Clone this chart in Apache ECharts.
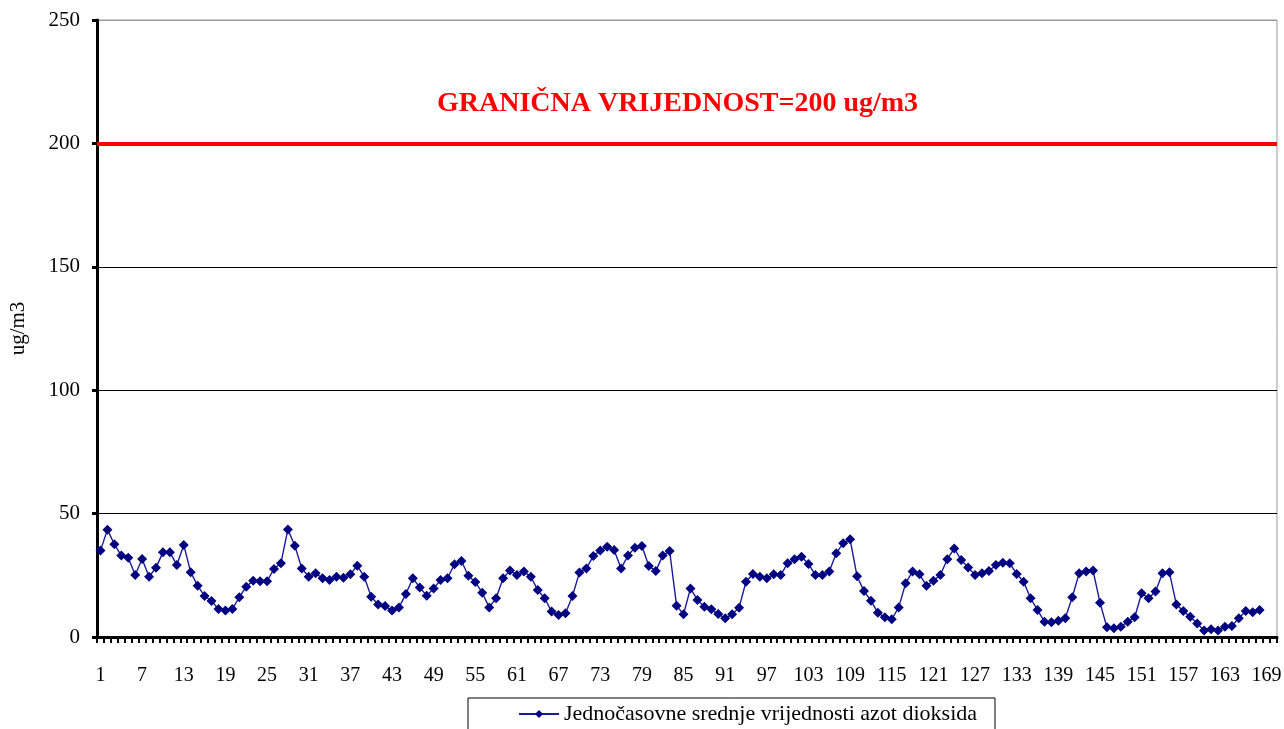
<!DOCTYPE html>
<html>
<head>
<meta charset="utf-8">
<script src="https://cdn.jsdelivr.net/npm/echarts@6/dist/echarts.min.js"></script>
<style>
  html, body { margin: 0; padding: 0; background: #fff; }
  #chart { width: 1284px; height: 729px; }
</style>
</head>
<body>
<div id="chart"></div>
<script>
// sati 1..170 (kategorije na x osi)
var hours = [];
for (var h = 1; h <= 170; h++) hours.push(String(h));

// jednočasovne srednje vrijednosti NO2 (ug/m3), očitano sa grafika
var no2Values = [
  35, 43.5, 37.6, 33, 32.1, 25.1, 31.6, 24.4, 28.1, 34.3,
  34.3, 29.2, 37.3, 26.2, 20.8, 16.6, 14.6, 11.3, 10.7, 11.3,
  16.1, 20.4, 22.8, 22.6, 22.6, 27.6, 29.9, 43.6, 37, 27.8,
  24.4, 25.8, 23.8, 23.1, 24.4, 24, 25.4, 28.9, 24.4, 16.3,
  13.2, 12.6, 10.7, 12, 17.4, 23.8, 20.1, 16.7, 19.7, 23.1,
  23.8, 29.5, 30.8, 24.8, 22.3, 17.9, 12, 15.7, 23.8, 26.9,
  25.1, 26.5, 24.4, 19, 15.7, 10.3, 8.9, 9.6, 16.6, 26.1,
  27.8, 32.8, 35, 36.6, 35.3, 27.8, 33, 36.2, 36.9, 28.8,
  26.7, 33, 34.8, 12.7, 9.2, 19.7, 15, 12.3, 11.2, 9.3,
  7.6, 9.2, 11.9, 22.4, 25.5, 24.4, 23.8, 25.4, 25.1, 29.9,
  31.5, 32.5, 29.6, 25.1, 25.1, 26.5, 33.9, 38, 39.6, 24.6,
  18.6, 14.7, 9.8, 8, 7.2, 12, 21.8, 26.5, 25.4, 20.8,
  22.8, 25.1, 31.5, 35.9, 31.2, 28.2, 25.1, 25.8, 26.7, 29.2,
  30.1, 29.9, 25.5, 22.4, 15.7, 10.9, 6.2, 6, 6.6, 7.6,
  16.1, 25.8, 26.5, 26.9, 13.9, 3.9, 3.5, 4.2, 6.2, 8,
  17.7, 15.7, 18.4, 25.8, 26.2, 13.2, 10.5, 8.2, 5.5, 2.6,
  3.1, 2.6, 4.2, 4.5, 7.6, 10.5, 10, 10.9
];

var limitValue = 200;
var yTicks = [0, 50, 100, 150, 200, 250];

var chart = echarts.init(document.getElementById('chart'));
var serif = '"Liberation Serif", "DejaVu Serif", serif';

chart.setOption({
  animation: false,
  backgroundColor: '#fff',
  title: {
    text: 'GRANIČNA VRIJEDNOST=200 ug/m3',
    left: 432,
    top: 85,
    textStyle: {
      color: '#ff0000',
      fontFamily: serif,
      fontWeight: 'bold',
      fontSize: 28
    }
  },
  grid: {
    left: 97,
    right: 7,
    top: 20,
    bottom: 92,
    outerBoundsMode: 'none',
    containLabel: false,
    show: true,
    borderColor: '#999',
    borderWidth: 1
  },
  legend: {
    data: ['Jednočasovne srednje vrijednosti azot dioksida'],
    left: 468,
    top: 698,
    padding: [5, 18, 20, 50],
    borderColor: '#000',
    borderWidth: 1,
    itemWidth: 40,
    itemHeight: 10,
    textStyle: {
      color: '#000',
      fontFamily: serif,
      fontSize: 22
    }
  },
  xAxis: {
    type: 'category',
    data: hours,
    boundaryGap: true,
    axisLine: { lineStyle: { color: '#000', width: 3 } },
    axisTick: {
      show: true,
      interval: 0,
      length: 6,
      lineStyle: { color: '#000', width: 2 }
    },
    axisLabel: {
      interval: 5,
      color: '#000',
      fontFamily: serif,
      fontSize: 20,
      margin: 29
    },
    splitLine: { show: false }
  },
  yAxis: {
    type: 'value',
    min: yTicks[0],
    max: yTicks[yTicks.length - 1],
    interval: 50,
    name: 'ug/m3',
    nameLocation: 'middle',
    nameGap: 68,
    nameRotate: 90,
    nameTextStyle: {
      color: '#000',
      fontFamily: serif,
      fontSize: 21
    },
    axisLine: { show: true, lineStyle: { color: '#000', width: 3 } },
    axisTick: { show: true, length: 5, lineStyle: { color: '#000', width: 3 } },
    axisLabel: {
      color: '#000',
      fontFamily: serif,
      fontSize: 21,
      margin: 17
    },
    splitLine: {
      show: true,
      lineStyle: { color: ['#000', '#000', '#000', '#000', '#000', '#999'], width: 1 }
    }
  },
  series: [
    {
      name: 'Jednočasovne srednje vrijednosti azot dioksida',
      type: 'line',
      data: no2Values,
      symbol: 'diamond',
      symbolSize: 10,
      showAllSymbol: true,
      itemStyle: { color: '#000080' },
      lineStyle: { color: '#1a1a99', width: 1.4 },
      markLine: {
        silent: true,
        symbol: ['none', 'none'],
        label: { show: false },
        lineStyle: { color: '#ff0000', width: 4, type: 'solid' },
        data: [{ yAxis: limitValue }]
      }
    }
  ]
});
</script>
</body>
</html>
